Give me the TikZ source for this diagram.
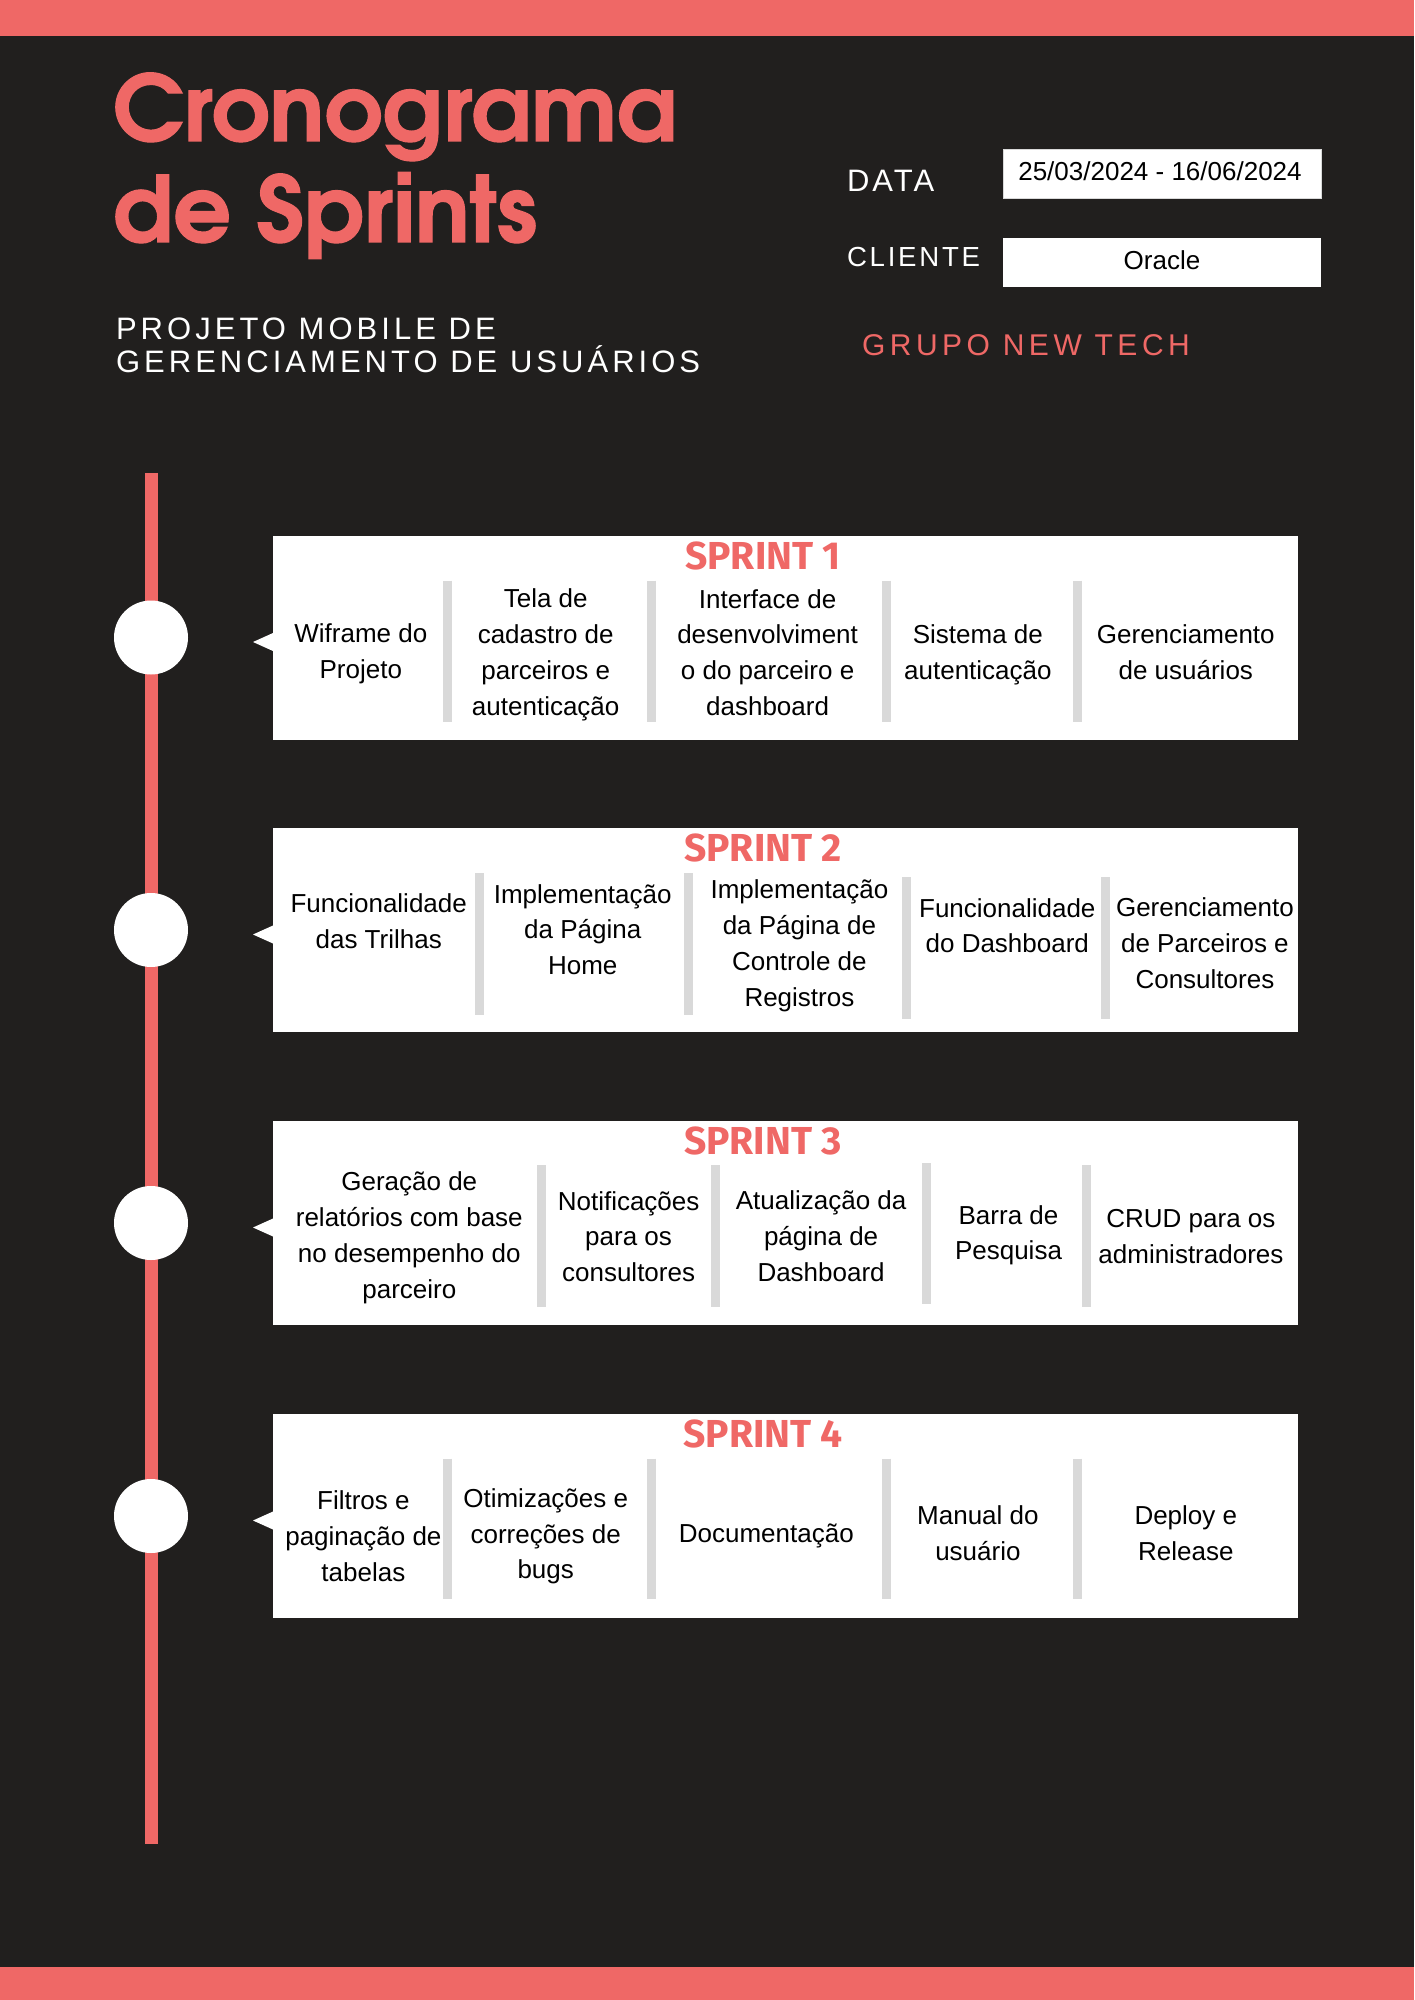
\documentclass[tikz,border=0pt]{standalone}
\usepackage{fontspec}
\usetikzlibrary{calc}
\setmainfont{Liberation Sans}
\newfontfamily\titlefont[FakeBold=1.2]{texgyreadventor-bold.otf}
\newfontfamily\sprintfont{Fira Sans}
\newfontfamily\spacedfont[LetterSpace=10]{Liberation Sans}
\newfontfamily\subfont[LetterSpace=13]{Liberation Sans}
\newfontfamily\widefont[LetterSpace=15]{Liberation Sans}
\definecolor{bgdark}{RGB}{33,31,30}
\definecolor{salmon}{RGB}{239,104,102}
\definecolor{sepgray}{RGB}{217,217,217}
\begin{document}
\begin{tikzpicture}[x=0.5pt,y=-0.5pt,
  every node/.style={inner sep=0pt, outer sep=0pt},
  item/.style={align=center, text=black, font=\fontsize{13}{17.9}\selectfont},
  sprinttitle/.style={anchor=base, text=salmon, font=\sprintfont\bfseries\fontsize{19.5}{22}\selectfont},
  sprintbox/.style={fill=white, minimum width=512.5pt, minimum height=102pt},
  dot/.style={circle, fill=white, minimum size=37pt},
  sepbar/.style={draw=sepgray, line width=4.5pt},
  pointer/.style={fill=white},
  headlabel/.style={anchor=base west, text=white, font=\spacedfont\fontsize{15.5}{18}\selectfont},
  subtitle/.style={anchor=base west, text=white, font=\subfont\fontsize{15.5}{18}\selectfont},
  titletext/.style={anchor=base west, text=salmon, font=\titlefont\fontsize{45.5}{50}\selectfont},
  infobox/.style={fill=white, minimum width=159pt, minimum height=24.5pt},
  infotext/.style={anchor=base, text=black, font=\fontsize{13}{15}\selectfont},
]
% page, top and bottom bands
\fill[bgdark] (0,0) rectangle (1414,2000);
\fill[salmon] (0,0) rectangle (1414,36);
\fill[salmon] (0,1967) rectangle (1414,2000);
\useasboundingbox (0,0) rectangle (1414,2000);

% title block
\node[titletext] (title1) at (113,141) {Cronograma};
\node[titletext] (title2) at (113,242) {de Sprints};
\node[subtitle] (sub1) at (116,340) {PROJETO MOBILE DE};
\node[subtitle] (sub2) at (116,373) {GERENCIAMENTO DE USUÁRIOS};

% project info
\node[headlabel] (datalbl) at (847,192) {DATA};
\node[headlabel, font=\spacedfont\fontsize{13.8}{16}\selectfont] (clientlbl) at (847,267) {CLIENTE};
\node[infobox, draw=black!15, line width=0.5pt] (databox) at (1162,174.5) {};
\node[infotext] (datatxt) at (1160,181) {25/03/2024 - 16/06/2024};
\node[infobox] (clientbox) at (1162,262.5) {};
\node[infotext] (clienttxt) at (1162,270) {Oracle};
\node[anchor=base west, text=salmon, font=\widefont\fontsize{15}{18}\selectfont] (group) at (862,356) {GRUPO NEW TECH};

% timeline
\coordinate (ltop) at (151,473);
\coordinate (lbot) at (151,1844);
\draw[salmon, line width=6.5pt] (ltop) -- (lbot);

% sprint cards
\foreach \i/\T in {1/535.5, 2/828, 3/1121, 4/1414} {
  \node[sprintbox] (box\i) at (785.5,\T+102) {};
  \node[dot] (dot\i) at (151,\T+102) {};
  \fill[pointer] ($(box\i.west)+(0,-4.5)$) -- ($(box\i.west)+(-20,4.5)$) -- ($(box\i.west)+(0,13.5)$) -- cycle;
  \node[sprinttitle] (head\i) at (763,\T+33.5) {SPRINT \i};
}

% sprint 1
\foreach \x in {447.5, 651.5, 886, 1077.5} \draw[sepbar] (\x,580.5) -- (\x,721.5);
\node[item] (s1a) at (360.8,654) {Wiframe do\\Projeto};
\node[item] (s1b) at (545.7,655) {Tela de\\cadastro de\\parceiros e\\autenticação};
\node[item] (s1c) at (767.6,652.5) {Interface de\\desenvolviment\\o do parceiro e\\dashboard};
\node[item] (s1d) at (977.9,655) {Sistema de\\autenticação};
\node[item] (s1e) at (1185.8,652.5) {Gerenciamento\\de usuários};

% sprint 2
\foreach \x in {479.4, 688.5} \draw[sepbar] (\x,873) -- (\x,1015);
\foreach \x in {906.5, 1105.4} \draw[sepbar] (\x,877) -- (\x,1019);
\node[item] (s2a) at (378.7,921) {Funcionalidade\\das Trilhas};
\node[item] (s2b) at (582.7,929.5) {Implementação\\da Página\\Home};
\node[item] (s2c) at (799.4,945.7) {Implementação\\da Página de\\Controle de\\Registros};
\node[item] (s2d) at (1007.3,925.6) {Funcionalidade\\do Dashboard};
\node[item] (s2e) at (1204.9,943) {Gerenciamento\\de Parceiros e\\Consultores};

% sprint 3
\foreach \x in {541.9, 715.3, 1086.3} \draw[sepbar] (\x,1165) -- (\x,1307);
\draw[sepbar] (926.9,1163) -- (926.9,1304);
\node[item] (s3a) at (409.3,1237.7) {Geração de\\relatórios com base\\no desempenho do\\parceiro};
\node[item] (s3b) at (628.6,1236.5) {Notificações\\para os\\consultores};
\node[item] (s3c) at (821.1,1236) {Atualização da\\página de\\Dashboard};
\node[item] (s3d) at (1008.5,1235.2) {Barra de\\Pesquisa};
\node[item] (s3e) at (1190.9,1236.8) {CRUD para os\\administradores};

% sprint 4
\foreach \x in {447.5, 651.5, 886, 1077.5} \draw[sepbar] (\x,1458.6) -- (\x,1599);
\node[item] (s4a) at (363.4,1536.3) {Filtros e\\paginação de\\tabelas};
\node[item] (s4b) at (545.7,1536.3) {Otimizações e\\correções de\\bugs};
\node[item] (s4c) at (766.3,1536.3) {Documentação};
\node[item] (s4d) at (977.9,1532.8) {Manual do\\usuário};
\node[item] (s4e) at (1185.8,1532.8) {Deploy e\\Release};
\end{tikzpicture}
\end{document}
